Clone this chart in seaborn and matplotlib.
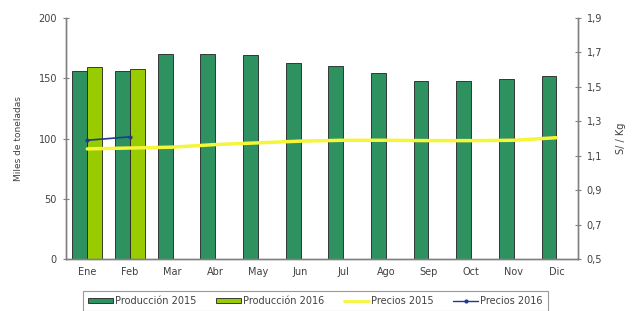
import matplotlib
matplotlib.use("Agg")
import matplotlib.pyplot as plt
import matplotlib.ticker as mticker
import pandas as pd
import seaborn as sns
from matplotlib.patches import Patch
from matplotlib.lines import Line2D

# Data
MONTHS = ["Ene", "Feb", "Mar", "Abr", "May", "Jun", "Jul", "Ago", "Sep", "Oct", "Nov", "Dic"]
PROD_2015 = [156, 156, 170, 170, 169, 163, 160, 154, 148, 148, 149, 152]
PROD_2016 = [159, 158]
PRECIO_2015 = [1.14, 1.145, 1.15, 1.165, 1.175, 1.185, 1.19, 1.19, 1.188, 1.188, 1.19, 1.205]
PRECIO_2016 = [1.19, 1.21]

C_2015 = "#2e9160"
C_2016 = "#99cc00"
C_P2015 = "#f5f53a"
C_P2016 = "#1f3a8f"
GRAY = "#808080"
TXT = "#404040"

sns.set_style("white")
plt.rcParams["font.family"] = ["DejaVu Sans"]

prod = pd.DataFrame({
    "Mes": MONTHS + MONTHS[:len(PROD_2016)],
    "Valor": PROD_2015 + PROD_2016,
    "Serie": ["Producción 2015"] * len(PROD_2015) + ["Producción 2016"] * len(PROD_2016),
})

fig = plt.figure(figsize=(6.37, 3.11), dpi=100)
ax = fig.add_axes([0.1036, 0.167, 0.8034, 0.775])

sns.barplot(data=prod, x="Mes", y="Valor", hue="Serie", order=MONTHS,
            palette=[C_2015, C_2016], saturation=1, width=0.7, edgecolor="#222222",
            linewidth=0.6, ax=ax, legend=False)
ax.set_xlim(-0.5, len(MONTHS) - 0.5)
ax.set_ylim(0, 200)
ax.set_yticks([0, 50, 100, 150, 200])
ax.set_xlabel("")
ax.set_ylabel("Miles de toneladas", fontsize=6.5, color=TXT, labelpad=11)

ax2 = ax.twinx()
ax2.plot(range(len(PRECIO_2015)), PRECIO_2015, color=C_P2015, lw=2.5, zorder=3)
ax2.plot(range(len(PRECIO_2016)), PRECIO_2016, color=C_P2016, lw=1.2,
         marker="o", markersize=2, zorder=4)
ax2.set_ylim(0.5, 1.9)
ax2.set_yticks([0.5, 0.7, 0.9, 1.1, 1.3, 1.5, 1.7, 1.9])
ax2.yaxis.set_major_formatter(mticker.FuncFormatter(lambda v, p: f"{v:.1f}".replace(".", ",")))
ax2.set_ylabel("S/ / Kg", fontsize=7, color=TXT, labelpad=10)

# category separators on the x axis, Excel style
ax.set_xticks(range(len(MONTHS)))
ax.set_xticklabels(MONTHS)
ax.set_xticks([i - 0.5 for i in range(len(MONTHS) + 1)], minor=True)
ax.tick_params(axis="x", which="major", length=0, pad=6, labelsize=7, labelcolor=TXT)
ax.tick_params(axis="x", which="minor", length=5, direction="inout", color=GRAY, width=0.8)
ax.tick_params(axis="y", length=5, direction="inout", color=GRAY, labelsize=7, labelcolor=TXT, pad=4)
ax2.tick_params(axis="y", length=5, direction="inout", color=GRAY, labelsize=7, labelcolor=TXT, pad=4)

for a in (ax, ax2):
    a.spines["top"].set_visible(False)
    for side in ("left", "right", "bottom"):
        a.spines[side].set_color(GRAY)
        a.spines[side].set_linewidth(1.0)

handles = [
    Patch(facecolor=C_2015, edgecolor="#222222", linewidth=0.6),
    Patch(facecolor=C_2016, edgecolor="#222222", linewidth=0.6),
    Line2D([], [], color=C_P2015, lw=2),
    Line2D([], [], color=C_P2016, lw=1, marker="o", markersize=2),
]
labels = ["Producción 2015", "Producción 2016", "Precios 2015", "Precios 2016"]
leg = fig.legend(handles, labels, ncol=4, loc="upper center", bbox_to_anchor=(0.495, 0.08),
                 fontsize=7, frameon=True, fancybox=False, edgecolor=GRAY,
                 handlelength=2.6, handleheight=0.5, columnspacing=2.0, handletextpad=0.2,
                 borderpad=0.5)
leg.get_frame().set_linewidth(0.8)
for t in leg.get_texts():
    t.set_color(TXT)

fig.savefig("out.png", dpi=100)
